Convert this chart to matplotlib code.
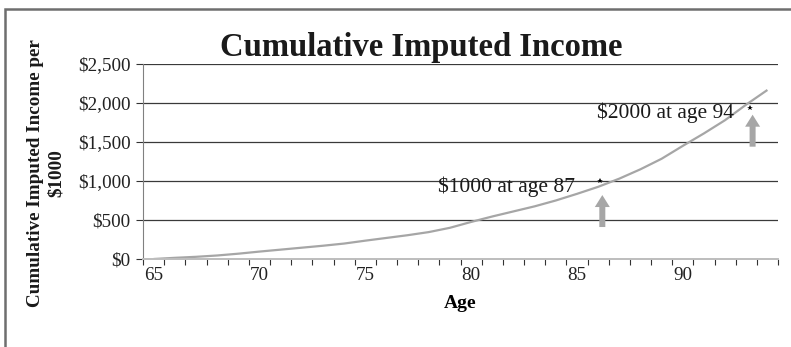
import matplotlib

matplotlib.use("Agg")
import matplotlib.pyplot as plt
from matplotlib.patches import Rectangle

# cumulative imputed income per $1000, by age
ages = list(range(65, 95))
income = [0, 15, 28, 45, 68, 95, 120, 145, 170, 198,
          235, 270, 305, 345, 400, 475, 545, 610, 675, 750,
          835, 925, 1030, 1150, 1285, 1450, 1610, 1780, 1980, 2167]

# milestone notes: stated value/age, where the star sits, arrow base/tip
note_vals = [1000, 2000]
note_ages = [87, 94]
star_x = [86.1, 93.2]
star_y = [1000, 1930]
arrow_x = [86.2, 93.3]
arrow_base = [410, 1440]
arrow_tip = [820, 1850]
text_right = [84.9, 92.4]
text_y = [925, 1880]

yticks = [0, 500, 1000, 1500, 2000, 2500]
xlabels = [65, 70, 75, 80, 85, 90]

plt.rcParams["font.family"] = ["Liberation Serif", "DejaVu Serif"]

fig = plt.figure(figsize=(7.91, 3.47), dpi=100)
fig.patches.append(Rectangle((5 / 791, -0.1), 1.1, 1 - 9 / 347 + 0.1,
                             transform=fig.transFigure, fill=False,
                             edgecolor="#6e6e6e", lw=1.8))
ax = fig.add_axes([143 / 791, 1 - 259 / 347, 635 / 791, 195 / 347])

ax.plot(ages, income, color="#a6a6a6", lw=1.6, solid_capstyle="butt")

ax.set_xlim(64.5, 94.5)
ax.set_ylim(0, 2500)
ax.set_yticks(yticks)
ax.set_yticklabels([f"${v:,}" for v in yticks])
ax.set_xticks(xlabels)
ax.set_xticks([a - 0.5 for a in ages] + [ages[-1] + 0.5], minor=True)
ax.tick_params(axis="x", which="major", length=0, pad=6)
ax.tick_params(axis="x", which="minor", length=4, width=0.8, color="#333333")
ax.tick_params(axis="y", length=5, width=0.8, color="#333333", pad=4)
ax.tick_params(labelsize=13.8, labelcolor="#222222")

ax.grid(axis="y", color="#3a3a3a", lw=0.9)
ax.set_axisbelow(True)
for side in ("top", "right"):
    ax.spines[side].set_visible(False)
ax.spines["left"].set_color("#808080")
ax.spines["bottom"].set_color("#bdbdbd")
ax.spines["bottom"].set_linewidth(1.4)
ax.spines["bottom"].set_zorder(2.5)

for i in range(len(note_vals)):
    ax.annotate("", xy=(arrow_x[i], arrow_tip[i]), xytext=(arrow_x[i], arrow_base[i]),
                arrowprops=dict(arrowstyle="simple,head_length=1.2,head_width=1.5,tail_width=0.6",
                                color="#a6a6a6", lw=0, shrinkA=0, shrinkB=0,
                                mutation_scale=7.2))
    ax.plot(star_x[i], star_y[i], marker="*", ms=4, color="black", mew=0)
    ax.text(text_right[i], text_y[i], f"${note_vals[i]} at age {note_ages[i]}",
            ha="right", va="center", fontsize=15.5, color="#1a1a1a")

ax.set_title("Cumulative Imputed Income", fontsize=23.5, fontweight="bold",
             color="#1a1a1a", pad=6, x=(421 - 143) / 635)
ax.set_xlabel("Age", fontsize=14, fontweight="bold", labelpad=8)
fig.text(46 / 791, 1 - 173 / 347, "Cumulative Imputed Income per\n$1000",
         rotation=90, ha="center", va="center", multialignment="center",
         fontsize=13.8, fontweight="bold", color="#1a1a1a", linespacing=1.25)

fig.savefig("out.png", dpi=100)
